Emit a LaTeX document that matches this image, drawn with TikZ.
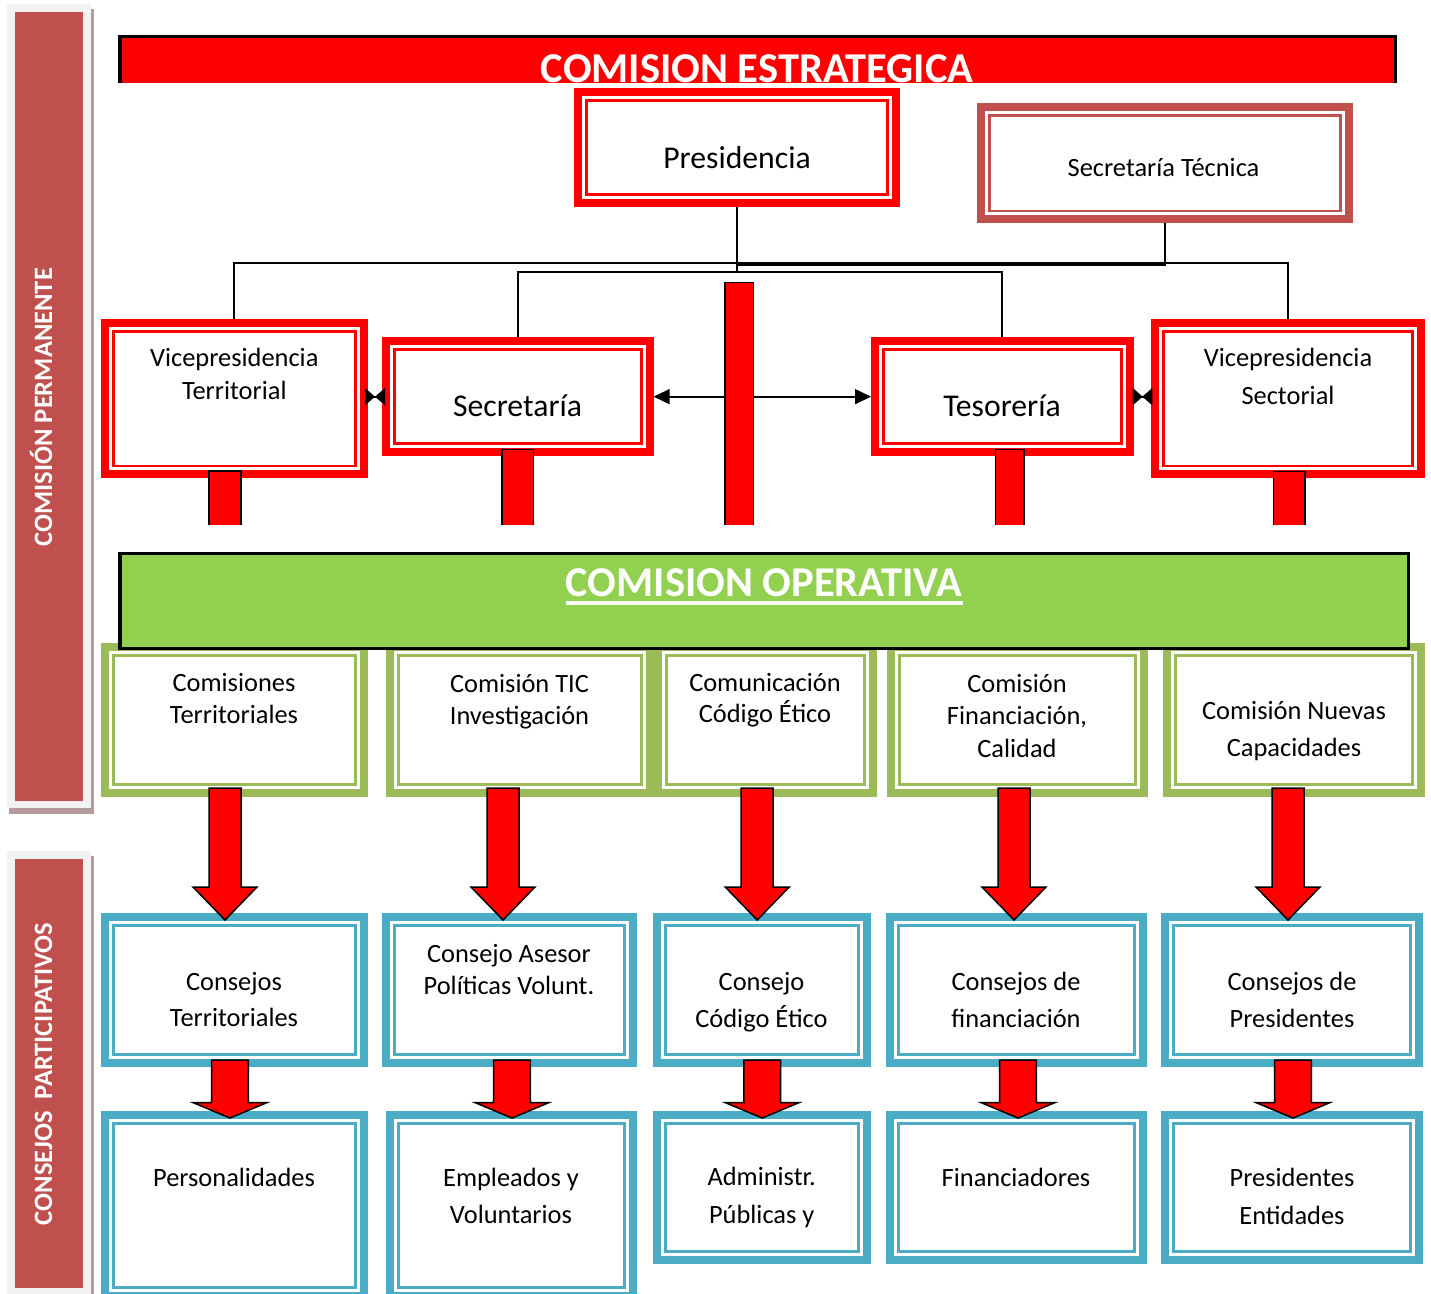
\documentclass[tikz,border=0pt]{standalone}
\usepackage{fontspec}
\setmainfont{Carlito}
\usetikzlibrary{arrows.meta,calc}
\definecolor{cred}{HTML}{FF0000}
\definecolor{cst}{HTML}{C0504D}
\definecolor{cgreen}{HTML}{9BBB59}
\definecolor{cgbar}{HTML}{92D050}
\definecolor{cblue}{HTML}{4BACC6}
\definecolor{cgray}{HTML}{F2F2F2}
\definecolor{cshadow}{HTML}{B59B9D}
\tikzset{
  tbox/.style={draw=#1, line width=8pt, fill=white, inner sep=0pt, outer sep=4pt,
    path picture={\draw[draw=#1, line width=2.8pt]
      ([shift={(8.4pt,-8.4pt)}]path picture bounding box.north west) rectangle
      ([shift={(-8.4pt,8.4pt)}]path picture bounding box.south east);}},
  txt/.style={font=\fontsize{26.4pt}{30pt}\selectfont, anchor=base, inner sep=0pt},
  bigtxt/.style={font=\fontsize{31.7pt}{36pt}\selectfont, anchor=base, inner sep=0pt},
  ttl/.style={font=\fontsize{42.5pt}{48pt}\selectfont\bfseries, text=white, anchor=base, inner sep=0pt},
  lbl/.style={font=\fontsize{26.5pt}{30pt}\selectfont\bfseries, text=white, anchor=base, rotate=90, inner sep=0pt},
  conn/.style={draw=black, line width=1.8pt},
  barline/.style={draw=black, line width=1.5pt},
  blockarrow/.style={fill=cred, draw=black, line width=1.5pt, line join=miter},
  bow/.style={conn, {Triangle[reversed,length=10pt,width=17pt]}-{Triangle[reversed,length=10pt,width=17pt]}},
  hd/.style={conn, -{Triangle[length=16pt,width=15pt]}}
}
\newcommand\frbox[6]{%
  \node[tbox=#2, minimum width={#5-#3-8}, minimum height={#6-#4-8}] (#1) at ({(#3+#5)/2},{(#4+#6)/2}) {};}
\newcommand\tlines[5]{%
  \foreach \lin [count=\k from 0] in {#5}{\node[txt] (#1-\k) at (#2,{#3+\k*#4}) {\lin};}}
\newcommand\vbar[3]{%
  \fill[cred] (#1,#3) rectangle (#2,525);
  \draw[barline] (#1,525) -- (#1,#3) -- (#2,#3) -- (#2,525);}
\newcommand\barrow[6]{%
  \draw[blockarrow] ({#1-#5},#2) -- ({#1-#5},#3) -- ({#1-#6},#3) -- (#1,#4) -- ({#1+#6},#3) -- ({#1+#5},#3) -- ({#1+#5},#2) -- cycle;}
\begin{document}
\begin{tikzpicture}[x=1pt,y=-1pt]
\path[use as bounding box] (0,0) rectangle (1431,1293);
\clip (0,0) rectangle (1431,1293);
\fill[white] (0,0) rectangle (1431,1293);
% left side labels
\fill[cshadow] (9.3,9.3) rectangle (94,814);
\fill[cgray] (6.7,4.3) rectangle (90.7,808.3);
\fill[cst] (14.7,12.3) rectangle (83,800.7);
\fill[cshadow] (9.3,856) rectangle (94,1300);
\fill[cgray] (6.7,851) rectangle (90.7,1300);
\fill[cst] (14.7,859) rectangle (83,1288);
\node[lbl] (lperm) at (52,407) {COMISIÓN PERMANENTE};
\node[lbl] (lpart) at (52,1074) {CONSEJOS~~PARTICIPATIVOS};
% top banner
\fill[cred] (118.3,34.7) rectangle (1397,82.7);
\draw[black, line width=3.3pt] (119.95,82.7) -- (119.95,36.35) -- (1395.35,36.35) -- (1395.35,82.7);
\node[ttl] (ce) at (757,82.4) {COMISION ESTRATEGICA};
% top boxes
\frbox{pres}{cred}{574}{88.3}{900}{207}
\frbox{st}{cst}{977.3}{102.7}{1352.6}{223.3}
\frbox{vt}{cred}{100.7}{319.3}{368}{478.3}
\frbox{sec}{cred}{382}{337.3}{653.6}{456}
\frbox{tes}{cred}{871}{337.3}{1133.7}{456}
\frbox{vs}{cred}{1151.3}{319.3}{1425}{478.3}
% connectors
\draw[conn] (pres.south) -- ++(0,56) -| (vt.north);
\draw[conn] (pres.south) -- ++(0,56) -| (vs.north);
\draw[conn] (pres.south) -- ++(0,65) -| (sec.north);
\draw[conn] (pres.south) ++(0,65) -| (tes.north);
\draw[conn] (st.south) -- ++(0,41.5) coordinate (stj);
\draw[conn, line width=3.2pt] ([xshift=0.9pt]stj) -- (stj -| pres.south);
% bars
\vbar{209}{241}{471}
\vbar{501.8}{533.6}{449.3}
\vbar{995.7}{1024}{449.3}
\vbar{1273.5}{1305}{471.7}
\node[fill=cred, minimum width=28.6, minimum height=242.3, inner sep=0pt, outer sep=0pt] (cbar) at (739.3,403.85) {};
\draw[barline] (cbar.south west) -- (cbar.north west) -- (cbar.north east) -- (cbar.south east);
\draw[hd] (cbar.west |- sec.east) -- (sec.east);
\draw[hd] (cbar.east |- tes.west) -- (tes.west);
\draw[bow] ([xshift=-3pt]vt.east |- sec.west) -- ([xshift=3pt]sec.west);
\draw[bow] ([xshift=-1pt]tes.east) -- ([xshift=1pt]vs.west |- tes.east);
% green row
\frbox{g1}{cgreen}{100.7}{643.3}{368}{796.7}
\frbox{g2}{cgreen}{386}{643.3}{654}{796.7}
\frbox{g3}{cgreen}{654}{643.3}{876.7}{796.7}
\frbox{g4}{cgreen}{886.7}{643.3}{1148}{796.7}
\frbox{g5}{cgreen}{1163}{643.3}{1425}{796.7}
\draw[black, line width=3.3pt, fill=cgbar] (119.95,553.35) rectangle (1408.35,648.35);
\node[ttl] (co) at (764,596.7) {COMISION OPERATIVA};
\draw[white, line width=3.8pt] ([yshift=-6.3pt]co.base west) -- ([yshift=-6.3pt]co.base east);
% blue rows
\frbox{b1}{cblue}{100.7}{913.3}{368}{1066.7}
\frbox{b2}{cblue}{382}{913.3}{637}{1066.7}
\frbox{b3}{cblue}{653.3}{913.3}{870.7}{1066.7}
\frbox{b4}{cblue}{886}{913.3}{1147}{1066.7}
\frbox{b5}{cblue}{1161}{913.3}{1423}{1066.7}
\frbox{p1}{cblue}{100.7}{1111}{368}{1300}
\frbox{p2}{cblue}{386}{1111}{637}{1300}
\frbox{p3}{cblue}{653.3}{1111}{870.7}{1264}
\frbox{p4}{cblue}{886}{1111}{1147}{1264}
\frbox{p5}{cblue}{1161}{1111}{1423}{1264}
% block arrows
\barrow{225}{788}{887}{920}{16}{32}
\barrow{503}{788}{887}{920}{16}{32}
\barrow{757.2}{788}{887}{920}{16}{32}
\barrow{1014}{788}{887}{920}{16}{32}
\barrow{1288}{788}{887}{920}{16}{32}
\barrow{230}{1060}{1102.7}{1118}{18.3}{36.7}
\barrow{512}{1060}{1102.7}{1118}{18.3}{36.7}
\barrow{762.2}{1060}{1102.7}{1118}{18.3}{36.7}
\barrow{1018}{1060}{1102.7}{1118}{18.3}{36.7}
\barrow{1293}{1060}{1102.7}{1118}{18.3}{36.7}
% texts
\node[bigtxt] (tpres) at (737,168) {Presidencia};
\node[txt] (tst) at (1163.5,176.7) {Secretaría Técnica};
\tlines{tvt}{234.3}{366.7}{33}{Vicepresidencia,Territorial}
\node[bigtxt] (tsec) at (517.5,416.7) {Secretaría};
\node[bigtxt] (ttes) at (1002,416.7) {Tesorería};
\tlines{tvs}{1288}{366.7}{38}{Vicepresidencia,Sectorial}
\tlines{tg1}{234}{691.7}{31.6}{Comisiones,Territoriales}
\tlines{tg2}{519.5}{692}{32}{Comisión TIC,Investigación}
\tlines{tg3}{765}{691.7}{31}{Comunicación,Código Ético}
\tlines{tg4}{1017}{692}{32.5}{Comisión,{Financiación,},Calidad}
\tlines{tg5}{1294}{719}{37}{Comisión Nuevas,Capacidades}
\tlines{tb1}{234}{990}{36.7}{Consejos,Territoriales}
\tlines{tb2}{509}{962.5}{32}{Consejo Asesor,Políticas Volunt.}
\tlines{tb3}{761.5}{990}{37.5}{Consejo,Código Ético}
\tlines{tb4}{1016}{990}{37}{Consejos de,financiación}
\tlines{tb5}{1292}{990}{37}{Consejos de,Presidentes}
\node[txt] (tp1) at (234,1186.7) {Personalidades};
\tlines{tp2}{511}{1186.7}{36.8}{Empleados y,Voluntarios}
\tlines{tp3}{761.7}{1185.7}{37.6}{Administr.,Públicas y}
\node[txt] (tp4) at (1016,1186.7) {Financiadores};
\tlines{tp5}{1292}{1186.7}{37.8}{Presidentes,Entidades}
\end{tikzpicture}
\end{document}
